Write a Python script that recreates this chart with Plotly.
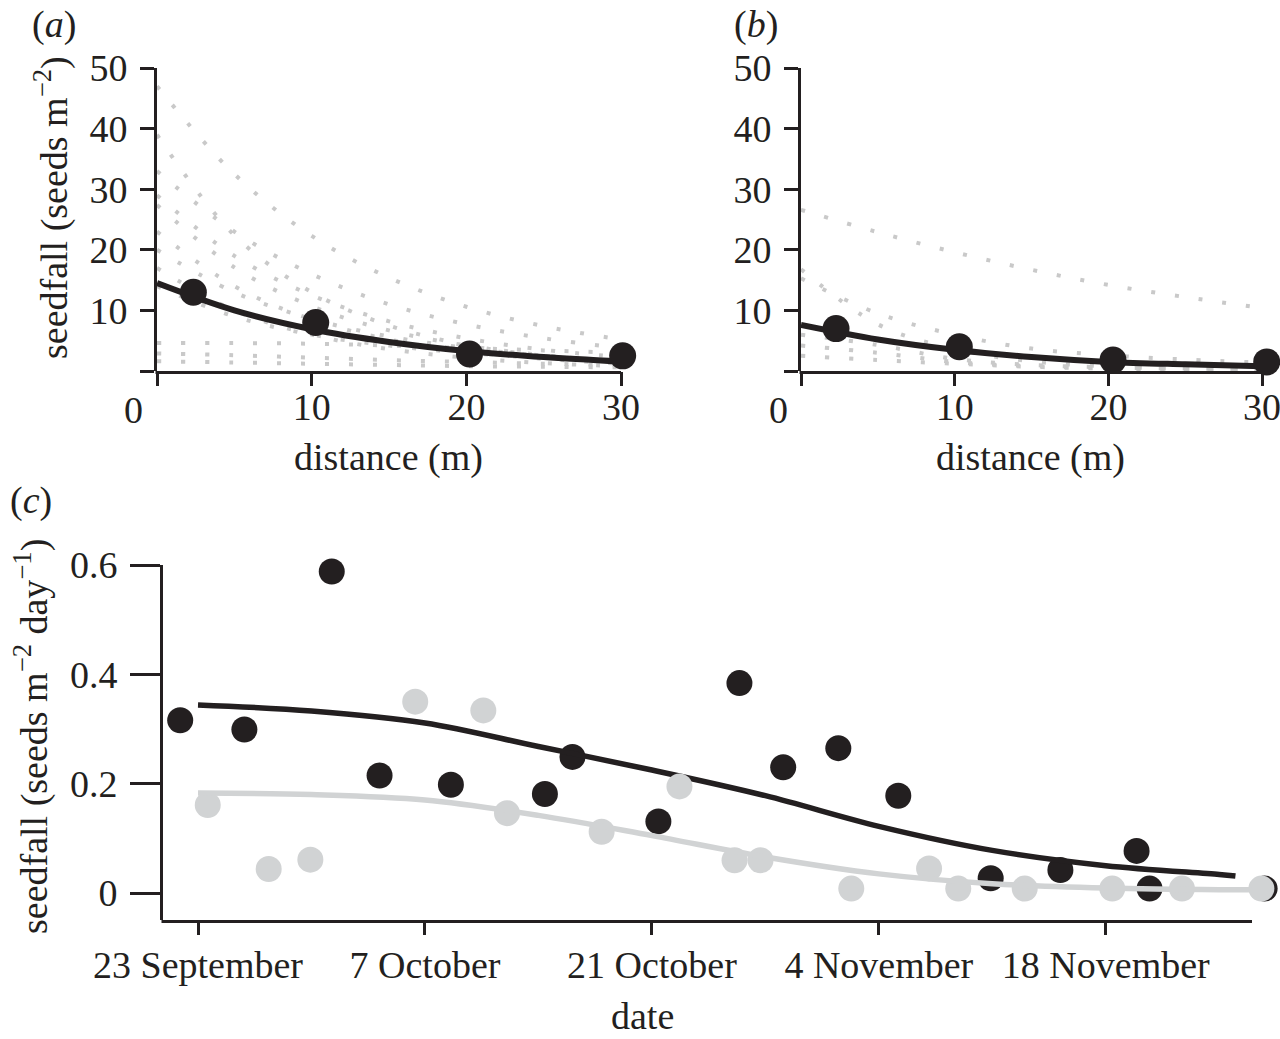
import plotly.graph_objects as go

# ---------------- data ----------------
# panels (a) and (b): distance (m)
dist_grid = [0, 5, 10, 15, 20, 25, 30]

# individual-tree dispersal curves (grey dotted), values at dist_grid
curves_a = [
    [47.0, 32.5, 22.3, 15.4, 10.6, 7.4, 5.2],
    [39.0, 22.4, 13.0, 7.5, 4.3, 2.5, 1.4],
    [33.0, 23.0, 16.0, 11.0, 7.7, 5.4, 3.8],
    [29.0, 19.0, 12.5, 8.2, 5.4, 3.5, 2.3],
    [27.4, 17.1, 10.7, 6.7, 4.2, 2.6, 1.6],
    [23.0, 14.0, 8.5, 5.2, 3.2, 2.0, 1.2],
    [20.0, 13.0, 8.6, 5.7, 3.8, 2.5, 1.7],
    [17.0, 10.0, 6.0, 3.6, 2.2, 1.3, 0.8],
    [14.0, 9.0, 6.0, 4.2, 3.0, 2.2, 1.6],
    [4.6, 4.6, 4.5, 4.2, 3.8, 3.4, 3.0],
    [2.9, 2.6, 2.2, 1.8, 1.5, 1.2, 1.0],
    [1.6, 1.4, 1.2, 1.0, 0.8, 0.7, 0.6],
]
curves_b = [
    [26.6, 22.9, 19.6, 16.7, 14.2, 12.2, 10.4],
    [15.3, 9.5, 6.0, 3.7, 2.6, 1.9, 1.4],
    [16.8, 7.7, 3.6, 1.6, 0.75, 0.35, 0.16],
    [6.0, 4.3, 2.0, 1.0, 0.6, 0.4, 0.3],
    [4.2, 3.0, 1.5, 0.8, 0.5, 0.3, 0.2],
    [2.5, 1.8, 1.2, 0.7, 0.4, 0.3, 0.2],
]

# fitted mean curves
fit_a = [14.5, 10.0, 6.9, 4.8, 3.3, 2.3, 1.55]
fit_b = [7.6, 5.2, 3.5, 2.3, 1.5, 1.1, 0.8]

# observed mean seedfall points
pts_a_x = [2.35, 10.26, 20.2, 30.1]
pts_a_y = [13.0, 8.0, 2.8, 2.5]
pts_b_x = [2.28, 10.3, 20.3, 30.3]
pts_b_y = [7.0, 4.0, 1.8, 1.5]

# panel (c): days after 23 September
black_days = [-1.1, 2.86, 8.25, 11.2, 15.6, 21.4, 23.1, 28.4, 33.4, 36.1,
              39.5, 43.2, 48.9, 53.2, 57.9, 58.7, 65.8]
black_vals = [0.316, 0.299, 0.588, 0.215, 0.198, 0.181, 0.249, 0.131, 0.384,
              0.230, 0.265, 0.178, 0.027, 0.042, 0.077, 0.008, 0.008]
grey_days = [0.6, 4.36, 6.93, 13.4, 17.6, 19.06, 24.9, 29.7, 33.1, 34.7,
             40.3, 45.1, 46.9, 51.0, 56.4, 60.7, 65.6]
grey_vals = [0.161, 0.044, 0.061, 0.350, 0.334, 0.146, 0.112, 0.195, 0.060,
             0.060, 0.008, 0.045, 0.008, 0.008, 0.008, 0.008, 0.008]

black_fit_days = [0, 7, 14, 21, 28, 35, 42, 49, 56, 63, 64.0]
black_fit_vals = [0.344, 0.333, 0.311, 0.268, 0.225, 0.178, 0.122, 0.078, 0.050, 0.034, 0.031]
grey_fit_days = [0, 7, 14, 21, 28, 35, 42, 49, 56, 63, 65.0]
grey_fit_vals = [0.183, 0.180, 0.170, 0.142, 0.105, 0.066, 0.035, 0.017, 0.009, 0.006, 0.006]

date_tick_vals = [0, 14, 28, 42, 56]
date_tick_text = ["23 September", "7 October", "21 October", "4 November", "18 November"]

dist_tick_vals = [0, 10, 20, 30]
dist_tick_text = ["", "10", "20", "30"]
seed_tick_vals = [0, 10, 20, 30, 40, 50]
seed_tick_text = ["", "10", "20", "30", "40", "50"]
rate_tick_vals = [0, 0.2, 0.4, 0.6]
rate_tick_text = ["0", "0.2", "0.4", "0.6"]

# ---------------- styling ----------------
W, H = 1280, 1039
INK = "#231f20"
GREY_DOT = "#c9c9c9"
GREY = "#d1d3d4"
FONT = "Liberation Serif"
FS = 38


def px(x):
    return x / W


def py(y):
    return 1 - y / H


# pixel frame of each panel: (x of axis start, px per unit, axis end px)
A_X0, A_PPU = 157, 15.47
B_X0, B_PPU = 801, 15.37
C_X0, C_PPU = 163, 16.21
C_MIN = -2.16

fig = go.Figure()

# panel (a) and (b)
for curves, xa, ya in [(curves_a, "x", "y"), (curves_b, "x2", "y2")]:
    for c in curves:
        fig.add_trace(go.Scatter(
            x=dist_grid, y=c, mode="lines", xaxis=xa, yaxis=ya,
            line=dict(color=GREY_DOT, width=4, dash="4px,20px", shape="spline"),
            showlegend=False, hoverinfo="skip", cliponaxis=False))

for fit, xs, ys, xa, ya in [(fit_a, pts_a_x, pts_a_y, "x", "y"),
                            (fit_b, pts_b_x, pts_b_y, "x2", "y2")]:
    fig.add_trace(go.Scatter(
        x=dist_grid, y=fit, mode="lines", xaxis=xa, yaxis=ya,
        line=dict(color=INK, width=6, shape="spline"),
        showlegend=False, cliponaxis=False))
    fig.add_trace(go.Scatter(
        x=xs, y=ys, mode="markers", xaxis=xa, yaxis=ya,
        marker=dict(color=INK, size=27, line=dict(width=0)),
        showlegend=False, cliponaxis=False))

# panel (c)
fig.add_trace(go.Scatter(
    x=black_days, y=black_vals, mode="markers", xaxis="x3", yaxis="y3",
    marker=dict(color=INK, size=26, line=dict(width=0)),
    showlegend=False, cliponaxis=False))
fig.add_trace(go.Scatter(
    x=black_fit_days, y=black_fit_vals, mode="lines", xaxis="x3", yaxis="y3",
    line=dict(color=INK, width=5.5, shape="spline"),
    showlegend=False, cliponaxis=False))
fig.add_trace(go.Scatter(
    x=grey_days, y=grey_vals, mode="markers", xaxis="x3", yaxis="y3",
    marker=dict(color=GREY, size=26, line=dict(width=0)),
    showlegend=False, cliponaxis=False))
fig.add_trace(go.Scatter(
    x=grey_fit_days, y=grey_fit_vals, mode="lines", xaxis="x3", yaxis="y3",
    line=dict(color=GREY, width=5.5, shape="spline"),
    showlegend=False, cliponaxis=False))

axis_common = dict(linewidth=3, linecolor=INK, ticks="outside",
                   tickwidth=3, tickcolor=INK, showgrid=False, zeroline=False,
                   automargin=False, ticklabeloverflow="allow",
                   tickfont=dict(family=FONT, size=FS, color=INK), fixedrange=True)

# x ranges are widened a little past the drawn axis line so that edge markers stay visible;
# the visible x-axis lines are drawn separately below
A_MAX, B_MAX, C_MAX = 31.0, 31.0, 66.5

fig.update_layout(
    width=W, height=H, margin=dict(l=0, r=0, t=0, b=0, autoexpand=False),
    paper_bgcolor="white", plot_bgcolor="white", showlegend=False,
    font=dict(family=FONT, size=FS, color=INK),
    xaxis=dict(domain=[px(A_X0), px(A_X0 + A_MAX * A_PPU)], range=[0, A_MAX], anchor="y",
               tickmode="array", tickvals=dist_tick_vals, ticktext=dist_tick_text,
               ticklen=14, ticklabelstandoff=-12, showline=False, **axis_common),
    yaxis=dict(domain=[py(371), py(68)], range=[0, 50], anchor="x",
               tickmode="array", tickvals=seed_tick_vals, ticktext=seed_tick_text,
               ticklen=14, ticklabelstandoff=5, showline=True, **axis_common),
    xaxis2=dict(domain=[px(B_X0), px(B_X0 + B_MAX * B_PPU)], range=[0, B_MAX], anchor="y2",
                tickmode="array", tickvals=dist_tick_vals, ticktext=dist_tick_text,
                ticklen=14, ticklabelstandoff=-12, showline=False, **axis_common),
    yaxis2=dict(domain=[py(371), py(68)], range=[0, 50], anchor="x2",
                tickmode="array", tickvals=seed_tick_vals, ticktext=seed_tick_text,
                ticklen=14, ticklabelstandoff=5, showline=True, **axis_common),
    xaxis3=dict(domain=[px(C_X0), px(C_X0 + (C_MAX - C_MIN) * C_PPU)], range=[C_MIN, C_MAX],
                anchor="y3",
                tickmode="array", tickvals=date_tick_vals, ticktext=date_tick_text,
                ticklen=14, ticklabelstandoff=-3, showline=False, **axis_common),
    yaxis3=dict(domain=[py(920), py(565)], range=[-0.0494, 0.6], anchor="x3",
                tickmode="array", tickvals=rate_tick_vals, ticktext=rate_tick_text,
                ticklen=30, ticklabelstandoff=5, showline=True, **axis_common),
)

# x-axis lines (paper coordinates)
for x0, x1, y in [(A_X0 - 1.5, 621, 372.5), (B_X0 - 1.5, 1262, 372.5), (C_X0 - 1.5, 1252, 921.5)]:
    fig.add_shape(type="line", xref="paper", yref="paper",
                  x0=px(x0), x1=px(x1), y0=py(y), y1=py(y),
                  line=dict(color=INK, width=3), layer="above")


def note(text, x, y, angle=0, xanchor="center", yanchor="middle"):
    fig.add_annotation(text=text, xref="paper", yref="paper", x=px(x), y=py(y),
                       showarrow=False, textangle=angle, xanchor=xanchor,
                       yanchor=yanchor, font=dict(family=FONT, size=FS, color=INK))


note("0", 133, 410)
note("0", 778, 410)
note("distance (m)", 388, 457)
note("distance (m)", 1030, 457)
note("seedfall (seeds m<sup>−2</sup>)", 52, 208, angle=-90)
note("seedfall (seeds m<sup>−2</sup> day<sup>−1</sup>)", 31, 737, angle=-90)
note("date", 642, 1016)
note("(<i>a</i>)", 54, 24)
note("(<i>b</i>)", 756, 24)
note("(<i>c</i>)", 31, 500)

fig.write_html(
    "out.html",
    config={"displayModeBar": False},
    post_script="document.body.style.margin='0';document.body.style.overflow='hidden';",
)
